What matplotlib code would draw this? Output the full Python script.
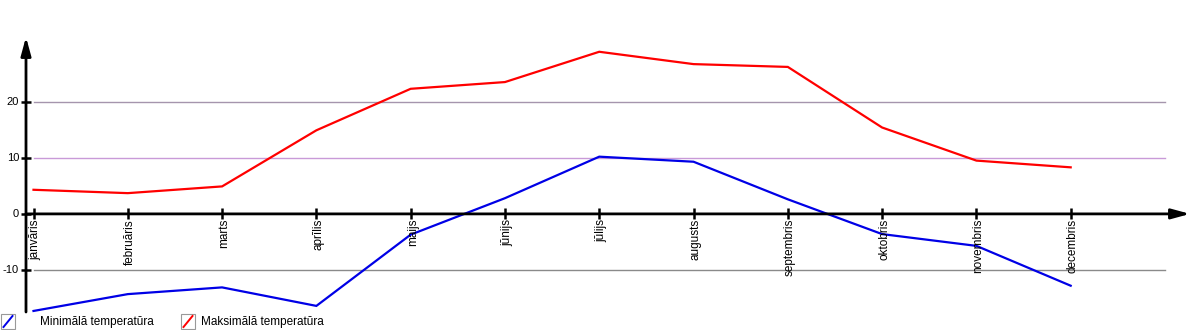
import matplotlib
matplotlib.use("Agg")
import matplotlib.pyplot as plt
from matplotlib.patches import Rectangle
from matplotlib.lines import Line2D
import matplotlib.transforms as mtransforms

months = ["janvāris", "februāris", "marts", "aprīlis", "maijs", "jūnijs",
          "jūlijs", "augusts", "septembris", "oktobris", "novembris", "decembris"]
temp_max = [4.3, 3.7, 4.9, 14.9, 22.3, 23.5, 28.9, 26.7, 26.2, 15.4, 9.5, 8.3]
temp_min = [-17.3, -14.3, -13.1, -16.4, -3.7, 2.8, 10.2, 9.3, 2.6, -3.6, -5.7, -12.8]
y_ticks = [20, 10, 0, -10]
grid_colors = {20: "#a595ad", 10: "#c99ad8", -10: "#8a8a8a"}
legend_labels = ["Minimālā temperatūra", "Maksimālā temperatūra"]

W, H = 1200, 330
fontsize = 8.5
plt.rc('font', family=['Liberation Sans', 'DejaVu Sans'], size=fontsize)

fig = plt.figure(figsize=(W / 100, H / 100), dpi=100)
ax = fig.add_axes([0, 0, 1, 1])
ax.axis('off')

# pixel geometry
x0_px, dx_px = 33.5, 94.29
y0_px, dy_px = 213.9, 5.61
ax.set_xlim(-x0_px / dx_px, (W - x0_px) / dx_px)
ax.set_ylim((y0_px - H) / dy_px, y0_px / dy_px)

def px_x(px):
    return (px - x0_px) / dx_px

def px_y(py):
    return (y0_px - py) / dy_px

xs = list(range(len(months)))

# horizontal grid lines
for v in y_ticks:
    if v == 0:
        continue
    ax.plot([0, 12], [v, v], color=grid_colors[v], lw=1.0, zorder=1)

# data lines
ax.plot(xs, temp_min, color="#0000e6", lw=1.6, zorder=3, solid_joinstyle='miter')
ax.plot(xs, temp_max, color="#ff0000", lw=1.6, zorder=3, solid_joinstyle='miter')

# axes with arrows
y_axis_x = px_x(26)
arrow = dict(arrowstyle='-|>,head_length=1.1,head_width=0.3', lw=2.0,
             color='black', mutation_scale=10, shrinkA=0, shrinkB=0)
ax.annotate('', xy=(y_axis_x, px_y(37)), xytext=(y_axis_x, px_y(312)),
            arrowprops=arrow, zorder=4)
ax.annotate('', xy=(px_x(1190), 0), xytext=(y_axis_x, 0),
            arrowprops=arrow, zorder=4)

# y ticks and labels
for v in y_ticks:
    ax.plot([px_x(21), px_x(31)], [v, v], color='black', lw=1.8, zorder=4,
            solid_capstyle='butt')
    ax.text(px_x(19), v, str(v), ha='right', va='center', fontsize=8)

# x ticks and labels
shift = mtransforms.ScaledTranslation(2 / 100, 0, fig.dpi_scale_trans)
for i, m in enumerate(months):
    ax.plot([i, i], [px_y(208), px_y(219)], color='black', lw=1.8, zorder=4,
            solid_capstyle='butt')
    ax.text(i, px_y(219), m, rotation=90, ha='center', va='top',
            transform=ax.transData + shift, zorder=5)

# legend drawn at the bottom
def fx(px):
    return px / W

def fy(py):
    return 1 - py / H

for (bx, tx), color, label in zip([(0.5, 40), (180.5, 201)], ["#0000e6", "#ff0000"], legend_labels):
    fig.add_artist(Rectangle((fx(bx), fy(329)), 14 / W, 15 / H, transform=fig.transFigure,
                             facecolor='white', edgecolor='#999999', lw=0.8))
    fig.add_artist(Line2D([fx(bx + 3), fx(bx + 12)], [fy(327), fy(316)],
                          transform=fig.transFigure, color=color, lw=1.4))
    fig.text(fx(tx), fy(322.5), label, ha='left', va='center', fontsize=fontsize)

fig.savefig("out.png", dpi=100)
